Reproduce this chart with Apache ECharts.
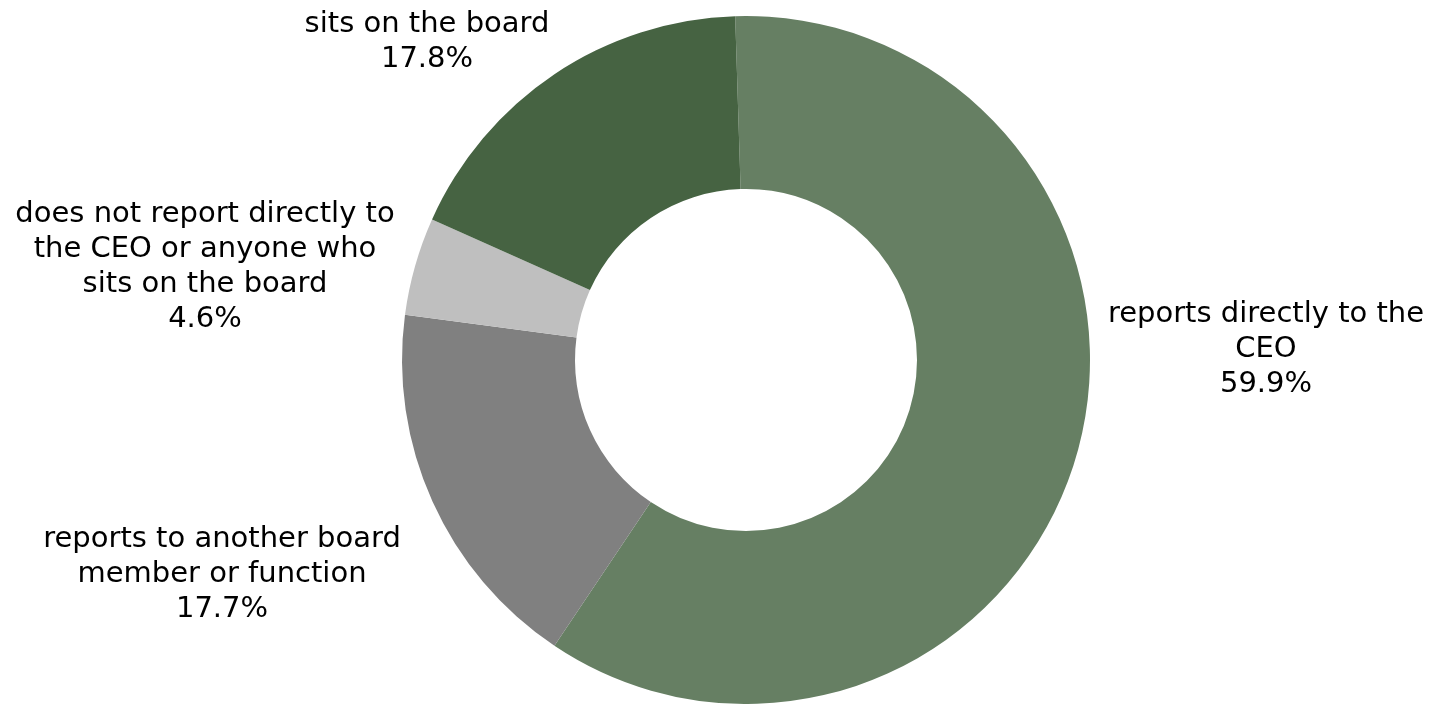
<!DOCTYPE html>
<html>
<head>
<meta charset="utf-8">
<title>Reporting line</title>
<script src="https://cdn.jsdelivr.net/npm/echarts@6/dist/echarts.min.js"></script>
<style>
  html, body { margin: 0; padding: 0; background: #ffffff; }
  #chart { width: 1437px; height: 704px; }
</style>
</head>
<body>
<div id="chart"></div>
<script>
// Where the role sits in the organisation (share of respondents, %)
const categories = [
  'reports directly to the\nCEO',
  'reports to another board\nmember or function',
  'does not report directly to\nthe CEO or anyone who\nsits on the board',
  'sits on the board'
];
const shares = [59.9, 17.7, 4.6, 17.8];
const sliceColors = ['#667f63', '#808080', '#bfbfbf', '#466342'];

// Label block centres, in pixels
const labelSpots = [
  [1266, 349],
  [222, 574],
  [205, 267],
  [427, 42]
];

const chart = echarts.init(document.getElementById('chart'), null, { renderer: 'canvas' });

chart.setOption({
  animation: false,
  backgroundColor: '#ffffff',
  series: [{
    type: 'pie',
    center: [746, 360],
    radius: [171, 344],
    startAngle: 91.8,
    clockwise: true,
    avoidLabelOverlap: false,
    itemStyle: { borderWidth: 0 },
    label: {
      show: true,
      position: 'outside',
      formatter: p => p.name + '\n' + p.value.toFixed(1) + '%',
      fontFamily: 'DejaVu Sans, Verdana, sans-serif',
      fontSize: 29,
      lineHeight: 35,
      color: '#000000',
      align: 'center'
    },
    labelLine: { show: false },
    labelLayout: params => ({
      x: labelSpots[params.dataIndex][0],
      y: labelSpots[params.dataIndex][1],
      align: 'center',
      verticalAlign: 'middle'
    }),
    emphasis: { disabled: true },
    data: categories.map((name, i) => ({
      name: name,
      value: shares[i],
      itemStyle: { color: sliceColors[i] }
    }))
  }]
});
</script>
</body>
</html>
